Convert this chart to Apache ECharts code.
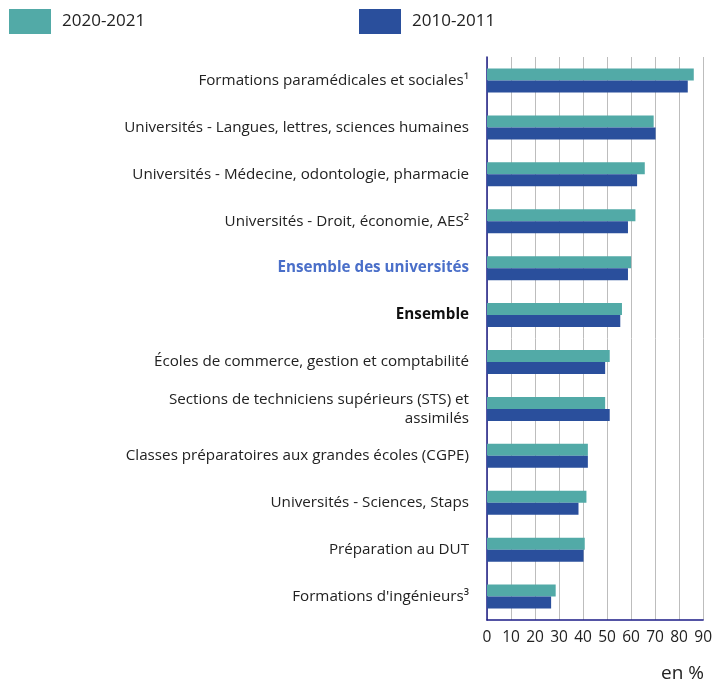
<!DOCTYPE html>
<html>
<head>
<meta charset="utf-8">
<script src="https://cdn.jsdelivr.net/npm/echarts@6/dist/echarts.min.js"></script>
<style>
html,body{margin:0;padding:0;background:#fff;}
#chart{width:715px;height:682px;}
</style>
</head>
<body>
<div id="chart"></div>
<script>
const categories = [
  "Formations paramédicales et sociales¹",
  "Universités - Langues, lettres, sciences humaines",
  "Universités - Médecine, odontologie, pharmacie",
  "Universités - Droit, économie, AES²",
  "Ensemble des universités",
  "Ensemble",
  "Écoles de commerce, gestion et comptabilité",
  "Sections de techniciens supérieurs (STS) et\nassimilés",
  "Classes préparatoires aux grandes écoles (CGPE)",
  "Universités - Sciences, Staps",
  "Préparation au DUT",
  "Formations d'ingénieurs³"
];
const values2020 = [86.1, 69.4, 65.7, 61.8, 60.0, 56.2, 51.1, 49.2, 42.0, 41.4, 40.7, 28.6];
const values2010 = [83.6, 70.2, 62.5, 58.7, 58.7, 55.5, 49.2, 51.1, 42.0, 38.1, 40.2, 26.7];
const xTicks = [0, 10, 20, 30, 40, 50, 60, 70, 80, 90];
const seriesNames = ["2020-2021", "2010-2011"];

const TEAL = "#52aaa7";
const BLUE = "#2a4f9c";
const AXIS = "#1c1c86";
const FONT = "Open Sans";

const catData = categories.map(c => {
  if (c === "Ensemble des universités") return {value: c, textStyle: {fontWeight: "bold", color: "#4a6fc9"}};
  if (c === "Ensemble") return {value: c, textStyle: {fontWeight: "bold", color: "#111"}};
  return c;
});

const chart = echarts.init(document.getElementById("chart"));
chart.setOption({
  animation: false,
  textStyle: {fontFamily: FONT},
  legend: [
    {data: [seriesNames[0]], left: 4, top: 4, itemWidth: 42, itemHeight: 25, itemGap: 0,
     icon: "rect", textStyle: {fontSize: 17, color: "#222", fontFamily: FONT, padding: [2, 0, 0, 6]}},
    {data: [seriesNames[1]], left: 354, top: 4, itemWidth: 42, itemHeight: 25, itemGap: 0,
     icon: "rect", textStyle: {fontSize: 17, color: "#222", fontFamily: FONT, padding: [2, 0, 0, 6]}}
  ],
  grid: {left: 487, right: 10.5, top: 57, bottom: 62, containLabel: false},
  xAxis: {
    type: "value", min: 0, max: 90, interval: 10,
    axisLine: {show: true, lineStyle: {color: AXIS, width: 1.5}},
    axisTick: {show: false},
    splitLine: {show: true, lineStyle: {color: "#bdbdbd", width: 1}},
    axisLabel: {fontSize: 15.5, color: "#222", margin: 10, fontFamily: FONT,
      formatter: v => xTicks.includes(v) ? String(v) : ""}
  },
  yAxis: {
    type: "category", inverse: true, data: catData,
    axisLine: {show: true, lineStyle: {color: AXIS, width: 1.5}},
    axisTick: {show: false},
    axisLabel: {fontSize: 15.2, color: "#222", margin: 18, fontFamily: FONT, lineHeight: 19, align: "right"}
  },
  series: [
    {name: seriesNames[0], type: "bar", data: values2020, barWidth: 12, barGap: "0%",
     itemStyle: {color: TEAL}},
    {name: seriesNames[1], type: "bar", data: values2010, barWidth: 12, barGap: "0%",
     itemStyle: {color: BLUE}}
  ],
  graphic: [{
    type: "text", right: 11, top: 664,
    style: {text: "en %", fontSize: 19, fill: "#222", fontFamily: FONT}
  }]
});
</script>
</body>
</html>
